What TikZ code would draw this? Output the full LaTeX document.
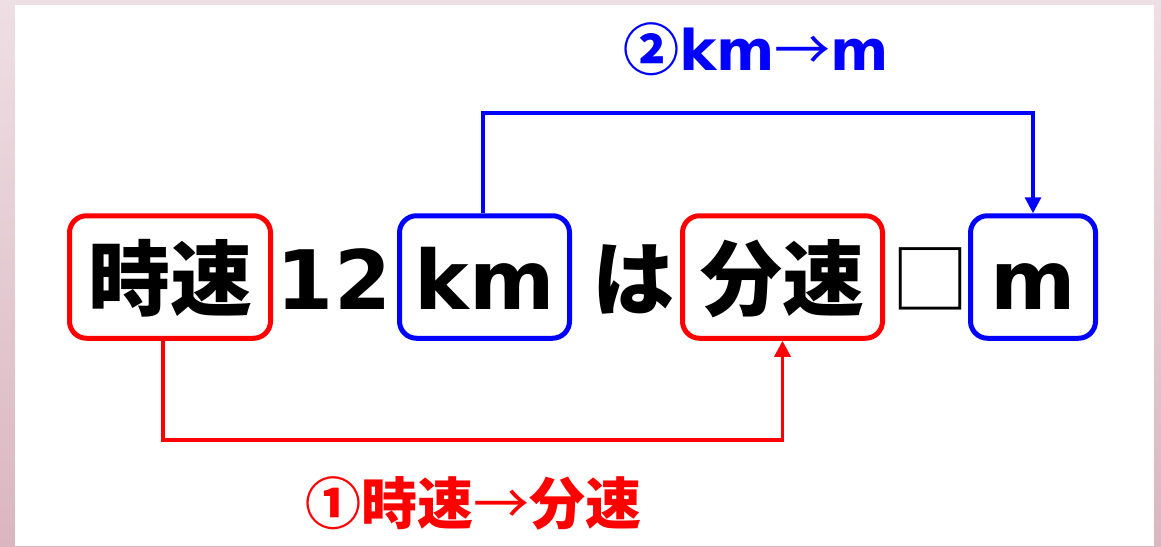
\documentclass[tikz,border=0pt]{standalone}
\usepackage{fontspec}
\setmainfont{DejaVu Sans}
\newfontfamily\jp{Noto Sans CJK JP}
\newfontfamily\lat{DejaVu Sans}
\usetikzlibrary{arrows.meta,calc}
\definecolor{pinkA}{HTML}{EEDFE4}
\definecolor{pinkB}{HTML}{DAB6C0}
\definecolor{cred}{HTML}{FF0000}
\definecolor{cblue}{HTML}{0000FF}
\begin{document}
\begin{tikzpicture}[x=1pt,y=-1pt,
  box/.style={draw, line width=5pt, rounded corners=17pt, inner sep=0pt,
    text height=93.25pt, text depth=29.25pt, anchor=center, text=black},
  jpbig/.style={font=\jp\bfseries\fontsize{82}{90}\selectfont},
  latbig/.style={font=\lat\bfseries\fontsize{82}{90}\selectfont},
  word/.style={inner sep=0pt, anchor=base},
  conn/.style={line width=3.2pt, -{Triangle[width=16pt,length=16pt]}},
  lbl/.style={inner sep=0pt, anchor=center, font=\fontsize{56}{60}\selectfont}]
\useasboundingbox (0,0) rectangle (1161,546);
\shade[top color=pinkA, bottom color=pinkB] (0,0) rectangle (1161,546);
\fill[white] (15,5) rectangle (1154,546);

\node[box, draw=cred, minimum width=201pt, jpbig] (jisoku) at (170,277) {時速};
\node[word, latbig] (n12) at (334,309) {12};
\node[box, draw=cblue, minimum width=170pt, latbig] (km) at (484.5,277) {km};
\node[word, jpbig] (ha) at (633,309) {は};
\node[box, draw=cred, minimum width=200pt, jpbig] (funsoku) at (782.5,277) {分速};
\node[word, font=\jp\fontsize{78}{90}\selectfont] (sq) at (930,308) {□};
\node[box, draw=cblue, minimum width=125pt, latbig] (m) at (1033,277) {m};

\coordinate (rA) at ($(jisoku.south)+(-7,0)$);
\coordinate (rB) at (0,440);
\draw[conn, draw=cred] (rA) -- (rA |- rB) -| (funsoku.south);
\coordinate (bA) at ($(km.north)+(-1.5,0)$);
\coordinate (bB) at (0,113);
\draw[conn, draw=cblue] (bA) -- (bA |- bB) -| (m.north);

\node[lbl, text=cred] (lab1) at (473,503) {{\jp\bfseries ①時速}{\jp →}{\jp\bfseries 分速}};
\node[lbl, text=cblue] (lab2) at (756,49) {{\jp\bfseries ②}{\lat\bfseries km}{\jp →}{\lat\bfseries m}};
\end{tikzpicture}
\end{document}
